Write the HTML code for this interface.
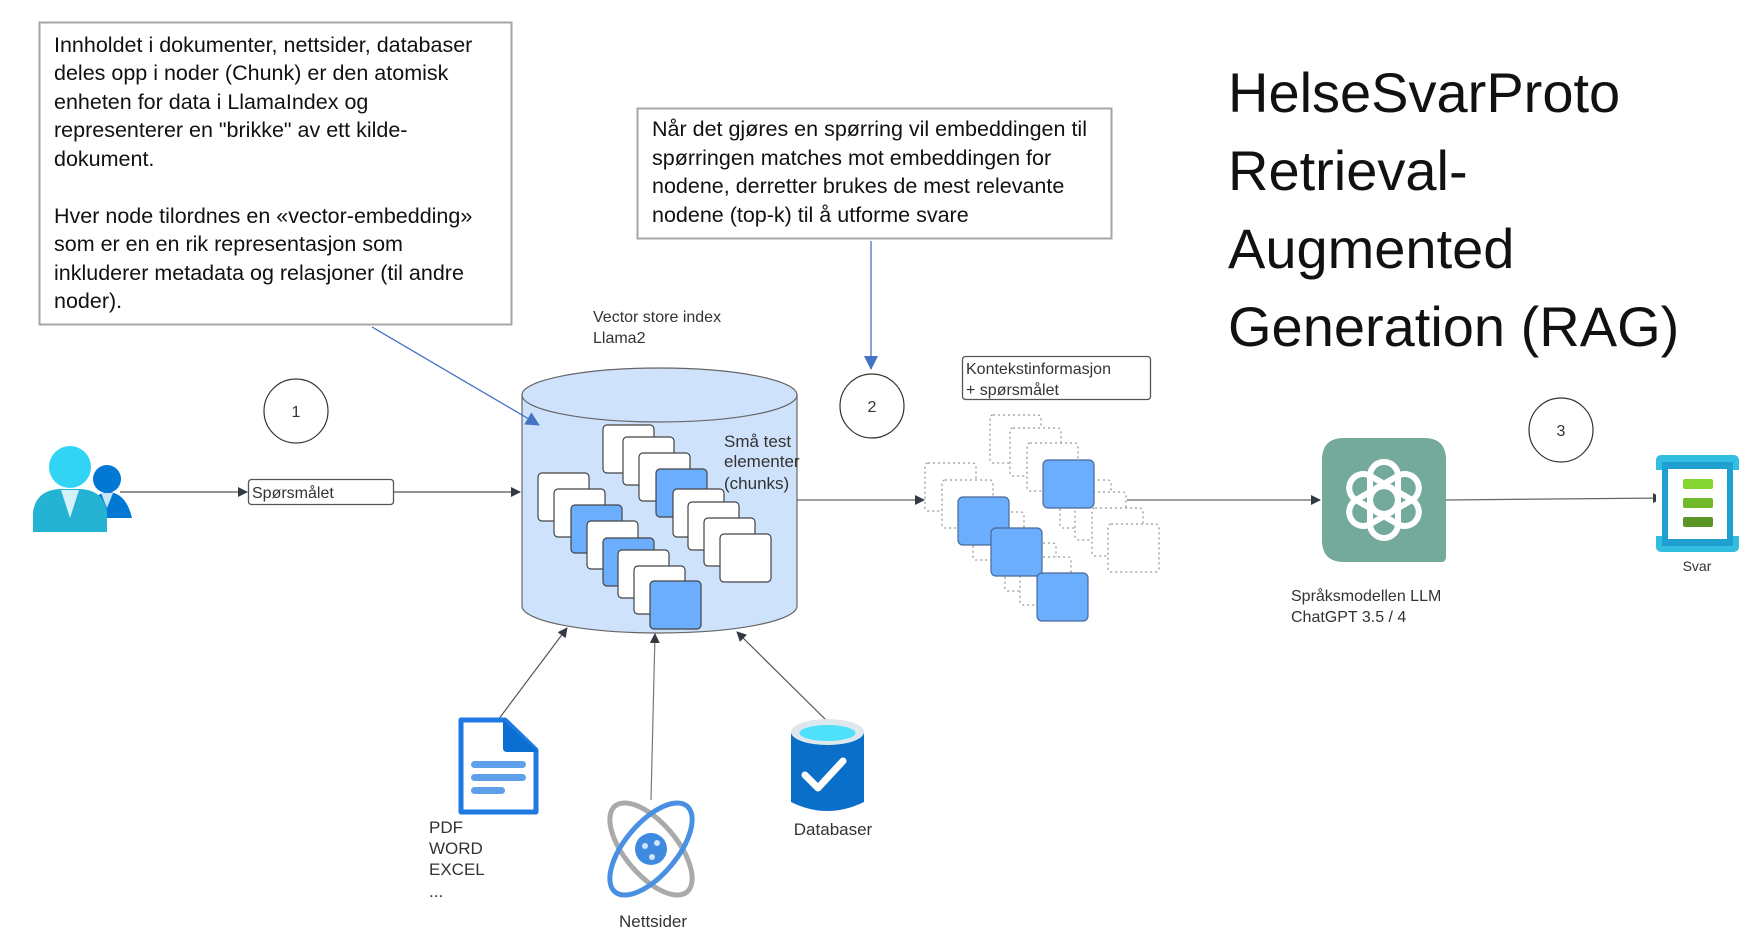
<!DOCTYPE html>
<html><head><meta charset="utf-8"><style>
html,body{margin:0;padding:0;background:#fff;}
svg{display:block;}
text{font-family:"Liberation Sans",sans-serif;}
</style></head><body>
<svg width="1750" height="945" viewBox="0 0 1750 945" xmlns="http://www.w3.org/2000/svg">
<defs>
<marker id="ak" markerWidth="10" markerHeight="10" refX="9" refY="5" orient="auto" markerUnits="userSpaceOnUse"><path d="M0,0 L10,5 L0,10 z" fill="#333a44"/></marker>
<marker id="ab" markerWidth="14" markerHeight="14" refX="13" refY="7" orient="auto" markerUnits="userSpaceOnUse"><path d="M0,0 L14,7 L0,14 z" fill="#4472c4"/></marker>
</defs>

<!-- text box 1 -->
<rect x="39.5" y="22.5" width="472" height="302" fill="#fff" stroke="#a6a6a6" stroke-width="2"/>
<g font-size="21.5" fill="#111">
<text x="54" y="52">Innholdet i dokumenter, nettsider, databaser</text>
<text x="54" y="80">deles opp i noder (Chunk) er den atomisk</text>
<text x="54" y="109">enheten for data i LlamaIndex og</text>
<text x="54" y="137">representerer en "brikke" av ett kilde-</text>
<text x="54" y="166">dokument.</text>
<text x="54" y="223">Hver node tilordnes en «vector-embedding»</text>
<text x="54" y="251">som er en en rik representasjon som</text>
<text x="54" y="280">inkluderer metadata og relasjoner (til andre</text>
<text x="54" y="308">noder).</text>
</g>

<!-- text box 2 -->
<rect x="637.5" y="108.5" width="474" height="130" fill="#fff" stroke="#a6a6a6" stroke-width="2"/>
<g font-size="21.5" fill="#111">
<text x="652" y="136">Når det gjøres en spørring vil embeddingen til</text>
<text x="652" y="165">spørringen matches mot embeddingen for</text>
<text x="652" y="193">nodene, derretter brukes de mest relevante</text>
<text x="652" y="222">nodene (top-k) til å utforme svare</text>
</g>

<!-- title -->
<g font-size="56" fill="#111">
<text x="1228" y="112">HelseSvarProto</text>
<text x="1228" y="190">Retrieval-</text>
<text x="1228" y="268">Augmented</text>
<text x="1228" y="346">Generation (RAG)</text>
</g>

<!-- circles -->
<g fill="#fff" stroke="#333" stroke-width="1.2" >
<circle cx="296" cy="411" r="32"/>
<circle cx="872" cy="406" r="32"/>
<circle cx="1561" cy="430" r="32"/>
</g>
<g font-size="16" fill="#333" text-anchor="middle">
<text x="296" y="417">1</text>
<text x="872" y="412">2</text>
<text x="1561" y="436">3</text>
</g>

<!-- person -->
<circle cx="107" cy="479" r="14" fill="#0078d4"/>
<path d="M90,518 Q92,493 107,492 Q126,492 132,518 Z" fill="#0078d4"/>
<path d="M101,493 L113,493 L107,508 Z" fill="#c8e4f8"/>
<circle cx="70" cy="467" r="21" fill="#32d4f5"/>
<path d="M33,532 L33,512 Q36,490 60,489 L80,489 Q104,490 107,512 L107,532 Z" fill="#25b3d4"/>
<path d="M61,490 L79,490 L70,518 Z" fill="#d4f2fb"/>

<!-- arrows man -> box -> cylinder -->
<line x1="120" y1="492" x2="247" y2="492" stroke="#555" stroke-width="1.3" marker-end="url(#ak)"/>
<rect x="248.5" y="479.5" width="145" height="25" rx="3" fill="#fff" stroke="#555" stroke-width="1.3"/>
<text x="252" y="498" font-size="16" fill="#333">Spørsmålet</text>
<line x1="394" y1="492" x2="520" y2="492" stroke="#555" stroke-width="1.3" marker-end="url(#ak)"/>

<!-- cylinder -->
<text x="593" y="322" font-size="16" fill="#333">Vector store index</text>
<text x="593" y="343" font-size="16" fill="#333">Llama2</text>
<path d="M522,395 L522,606 A137.5,27 0 0 0 797,606 L797,395 Z" fill="#cfe2fb" stroke="#666" stroke-width="1.2"/>
<ellipse cx="659.5" cy="395" rx="137.5" ry="27" fill="#cfe2fb" stroke="#666" stroke-width="1.2"/>

<!-- blue arrows -->
<line x1="372" y1="327" x2="539" y2="425" stroke="#4472c4" stroke-width="1.3" marker-end="url(#ab)"/>
<line x1="871" y1="241" x2="871" y2="369" stroke="#4472c4" stroke-width="1.3" marker-end="url(#ab)"/>

<g stroke="#444" stroke-width="1.2">
<rect x="603" y="425" width="51" height="48" rx="4" fill="#fff"/>
<rect x="623" y="437" width="51" height="48" rx="4" fill="#fff"/>
<rect x="639" y="453" width="51" height="48" rx="4" fill="#fff"/>
<rect x="656" y="469" width="51" height="48" rx="4" fill="#6aaefd"/>
<rect x="673" y="489" width="51" height="48" rx="4" fill="#fff"/>
<rect x="688" y="502" width="51" height="48" rx="4" fill="#fff"/>
<rect x="704" y="518" width="51" height="48" rx="4" fill="#fff"/>
<rect x="720" y="534" width="51" height="48" rx="4" fill="#fff"/>
<rect x="538" y="473" width="51" height="48" rx="4" fill="#fff"/>
<rect x="554" y="489" width="51" height="48" rx="4" fill="#fff"/>
<rect x="571" y="505" width="51" height="48" rx="4" fill="#6aaefd"/>
<rect x="587" y="521" width="51" height="48" rx="4" fill="#fff"/>
<rect x="603" y="538" width="51" height="48" rx="4" fill="#6aaefd"/>
<rect x="618" y="550" width="51" height="48" rx="4" fill="#fff"/>
<rect x="634" y="566" width="51" height="48" rx="4" fill="#fff"/>
<rect x="650" y="581" width="51" height="48" rx="4" fill="#6aaefd"/>
</g>
<g font-size="17" fill="#333">
<text x="724" y="447">Små test</text>
<text x="724" y="467">elementer</text>
<text x="724" y="489">(chunks)</text>
</g>

<!-- cylinder -> cluster -->
<line x1="797" y1="500" x2="924" y2="500" stroke="#666" stroke-width="1.3" marker-end="url(#ak)"/>

<!-- kontekst box -->
<rect x="962.5" y="356.5" width="188" height="43" rx="3" fill="#fff" stroke="#555" stroke-width="1.3"/>
<text x="966" y="374" font-size="16" fill="#333">Kontekstinformasjon</text>
<text x="966" y="395" font-size="16" fill="#333">+ spørsmålet</text>

<!-- dashed cluster -->
<g fill="#fff" stroke="#999" stroke-width="1.3" stroke-dasharray="2,3">
<rect x="990" y="415" width="51" height="48" rx="3"/>
<rect x="1010" y="428" width="51" height="48" rx="3"/>
<rect x="1027" y="443" width="51" height="48" rx="3"/>
<rect x="1060" y="480" width="51" height="48" rx="3"/>
<rect x="1075" y="492" width="51" height="48" rx="3"/>
<rect x="1092" y="508" width="51" height="48" rx="3"/>
<rect x="1108" y="524" width="51" height="48" rx="3"/>
<rect x="925" y="463" width="51" height="48" rx="3"/>
<rect x="942" y="480" width="51" height="48" rx="3"/>
<rect x="973" y="512" width="51" height="48" rx="3"/>
<rect x="1005" y="543" width="51" height="48" rx="3"/>
<rect x="1020" y="557" width="51" height="48" rx="3"/>
</g>
<g fill="#6aaefd" stroke="#4a6a9a" stroke-width="1.2">
<rect x="1043" y="460" width="51" height="48" rx="5"/>
<rect x="958" y="497" width="51" height="48" rx="5"/>
<rect x="991" y="528" width="51" height="48" rx="5"/>
<rect x="1037" y="573" width="51" height="48" rx="5"/>
</g>

<!-- cluster -> chatgpt -->
<line x1="1127" y1="500" x2="1320" y2="500" stroke="#666" stroke-width="1.3" marker-end="url(#ak)"/>

<!-- chatgpt -->
<path d="M1344,438 L1424,438 Q1446,438 1446,460 L1446,557 Q1446,562 1441,562 L1344,562 Q1322,562 1322,540 L1322,460 Q1322,438 1344,438 Z" fill="#74aa9c"/>
<g fill="none" stroke="#fff" stroke-width="6" transform="translate(1384,500)">
<rect x="-14" y="-38" width="28" height="52" rx="14" transform="rotate(0)"/>
<rect x="-14" y="-38" width="28" height="52" rx="14" transform="rotate(60)"/>
<rect x="-14" y="-38" width="28" height="52" rx="14" transform="rotate(120)"/>
<rect x="-14" y="-38" width="28" height="52" rx="14" transform="rotate(180)"/>
<rect x="-14" y="-38" width="28" height="52" rx="14" transform="rotate(240)"/>
<rect x="-14" y="-38" width="28" height="52" rx="14" transform="rotate(300)"/>
</g>
<text x="1291" y="601" font-size="16" fill="#333">Språksmodellen LLM</text>
<text x="1291" y="622" font-size="16" fill="#333">ChatGPT 3.5 / 4</text>

<!-- chatgpt -> svar -->
<line x1="1446" y1="500" x2="1662" y2="498" stroke="#666" stroke-width="1.3" marker-end="url(#ak)"/>

<!-- svar icon -->
<rect x="1656" y="455" width="83" height="97" rx="5" fill="#32bee0"/>
<rect x="1656" y="470" width="6" height="66" fill="#fff"/>
<rect x="1733" y="470" width="6" height="66" fill="#fff"/>
<rect x="1662" y="462" width="71" height="84" fill="#1fa0d0"/>
<rect x="1668" y="469" width="59" height="70" fill="#fff"/>
<rect x="1683" y="479" width="30" height="10" rx="2" fill="#86d633"/>
<rect x="1683" y="498" width="30" height="10" rx="2" fill="#6fb92a"/>
<rect x="1683" y="517" width="30" height="10" rx="2" fill="#5a9625"/>
<text x="1697" y="571" font-size="14" fill="#333" text-anchor="middle">Svar</text>

<!-- source arrows -->
<line x1="498" y1="720" x2="567" y2="628" stroke="#555" stroke-width="1.2" marker-end="url(#ak)"/>
<line x1="651" y1="800" x2="655" y2="634" stroke="#777" stroke-width="1.2" marker-end="url(#ak)"/>
<line x1="826" y1="720" x2="737" y2="632" stroke="#555" stroke-width="1.2" marker-end="url(#ak)"/>

<!-- doc icon -->
<path d="M461,720 L505,720 L536,750 L536,812 L461,812 Z" fill="#fff" stroke="#1e7ae0" stroke-width="5" stroke-linejoin="round"/>
<path d="M503,720 L538,752 L507,752 Q503,752 503,748 Z" fill="#0a6fd0"/>
<rect x="471" y="761" width="55" height="7" rx="3.5" fill="#5ea0ea"/>
<rect x="471" y="774" width="55" height="7" rx="3.5" fill="#5ea0ea"/>
<rect x="471" y="787" width="34" height="7" rx="3.5" fill="#5ea0ea"/>
<g font-size="17" fill="#333">
<text x="429" y="833">PDF</text>
<text x="429" y="854">WORD</text>
<text x="429" y="875">EXCEL</text>
<text x="429" y="897">...</text>
</g>

<!-- atom -->
<ellipse cx="651" cy="849" rx="26" ry="56" fill="none" stroke="#aaa" stroke-width="5" transform="rotate(-40 651 849)"/>
<ellipse cx="651" cy="849" rx="26" ry="56" fill="none" stroke="#4a90e2" stroke-width="5" transform="rotate(40 651 849)"/>
<circle cx="651" cy="849" r="16" fill="#3d8ae0"/>
<circle cx="645" cy="846" r="3" fill="#cfe3fa"/><circle cx="657" cy="843" r="3" fill="#cfe3fa"/><circle cx="652" cy="857" r="3" fill="#cfe3fa"/>
<text x="653" y="927" font-size="17" fill="#333" text-anchor="middle">Nettsider</text>

<!-- database -->
<path d="M791,732 L791,802 Q827,820 864,802 L864,732 Z" fill="#0a6fc8"/>
<ellipse cx="827.5" cy="732" rx="36.5" ry="13" fill="#dfe7ee"/>
<ellipse cx="827.5" cy="733" rx="28" ry="8" fill="#4fe0fb"/>
<path d="M805,775 L818,788 L843,761" fill="none" stroke="#fff" stroke-width="7" stroke-linecap="round" stroke-linejoin="round"/>
<text x="833" y="835" font-size="17" fill="#333" text-anchor="middle">Databaser</text>
</svg>
</body></html>
